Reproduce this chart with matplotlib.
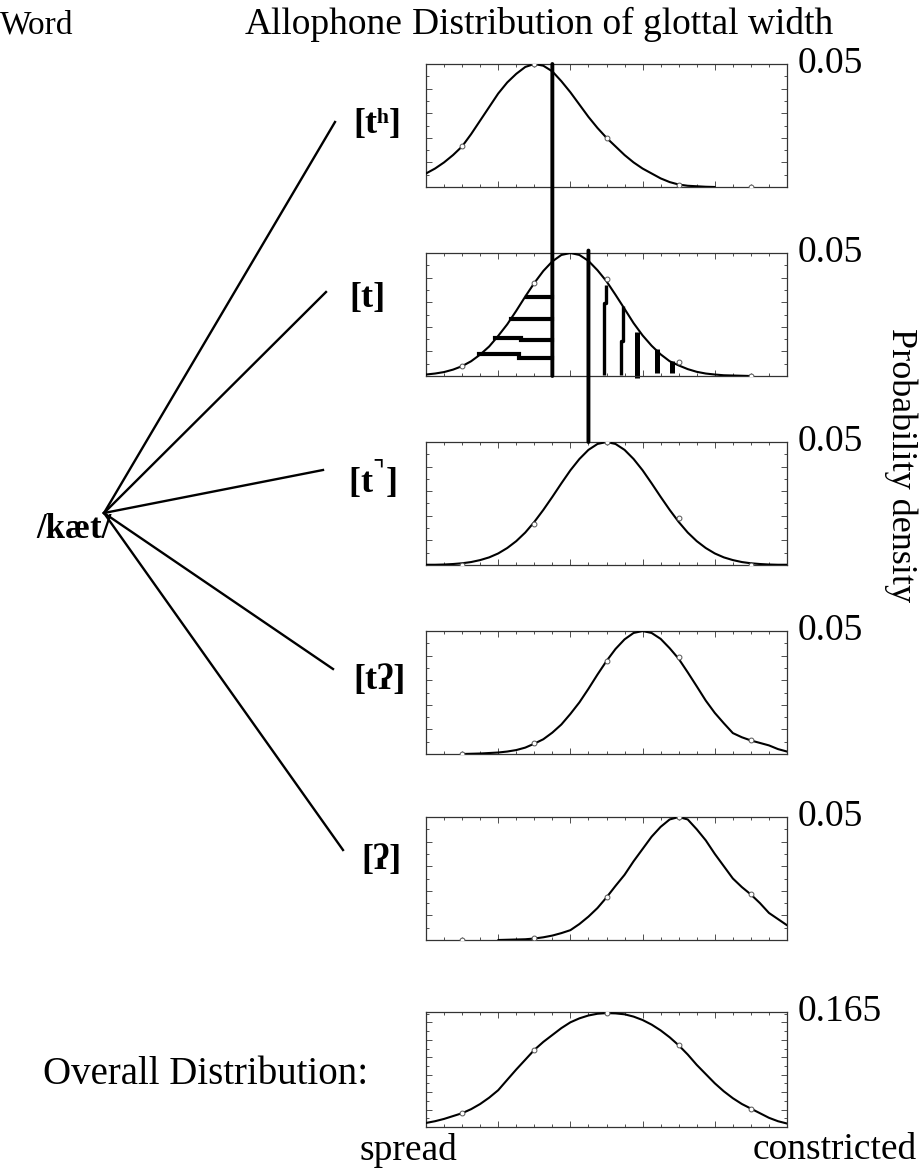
import numpy as np
import matplotlib
matplotlib.use('Agg')
import matplotlib.pyplot as plt
from matplotlib.lines import Line2D
from matplotlib.patches import ConnectionPatch
from matplotlib.ticker import MultipleLocator

plt.rcParams['font.family'] = ['Liberation Serif', 'DejaVu Serif']

# x positions (glottal width, spread -> constricted) where the curves were read
glottal_x = [0.000, 0.025, 0.050, 0.075, 0.100, 0.125, 0.150, 0.175, 0.200, 0.225,
             0.250, 0.275, 0.300, 0.325, 0.350, 0.375, 0.400, 0.425, 0.450, 0.475,
             0.500, 0.525, 0.550, 0.575, 0.600, 0.625, 0.650, 0.675, 0.700, 0.725,
             0.750, 0.775, 0.800, 0.825, 0.850, 0.875, 0.900, 0.925, 0.950, 0.975, 1.000]

# probability density of each allophone
th_y = [0.0055, 0.0075, 0.010, 0.013, 0.0165, 0.0215, 0.027, 0.0325, 0.038, 0.0425,
        0.046, 0.0488, 0.050, 0.0493, 0.047, 0.043, 0.0385, 0.0335, 0.0285, 0.024,
        0.020, 0.0165, 0.013, 0.010, 0.0075, 0.0055, 0.0035, 0.002, 0.001, 0.0005,
        0.0003, 0.0001, 0.0]                                             # x 0 .. 0.8
t_y = [0.0006, 0.001, 0.0016, 0.0026, 0.004, 0.006, 0.0087, 0.012, 0.0163, 0.021,
       0.0265, 0.0323, 0.0378, 0.0427, 0.0466, 0.0492, 0.050, 0.0492, 0.0468, 0.043,
       0.0385, 0.033, 0.0273, 0.0215, 0.0165, 0.0123, 0.0088, 0.006, 0.0043, 0.0028,
       0.0017, 0.001, 0.0006, 0.0003, 0.0002, 0.0001, 0.0]              # x 0 .. 0.9
tc_y = [0.0001, 0.0001, 0.0002, 0.0004, 0.0007, 0.0012, 0.002, 0.0031, 0.0047, 0.0069,
        0.0097, 0.0132, 0.0175, 0.0224, 0.0277, 0.0332, 0.0385, 0.0431, 0.0468, 0.0492,
        0.050, 0.0492, 0.0468, 0.0431, 0.0385, 0.0332, 0.0277, 0.0224, 0.0175, 0.0132,
        0.0097, 0.0069, 0.0047, 0.0031, 0.002, 0.0012, 0.0007, 0.0004, 0.0002, 0.0001,
        0.0001]                                                          # x 0 .. 1
tq_y = [0.0, 0.0001, 0.0002, 0.0004, 0.0006, 0.001, 0.0016, 0.0026, 0.0042, 0.006,
        0.0087, 0.012, 0.0163, 0.021, 0.0265, 0.0323, 0.0378, 0.0427, 0.0466, 0.0492,
        0.050, 0.0492, 0.0468, 0.043, 0.0387, 0.0332, 0.0275, 0.0217, 0.0167, 0.0125,
        0.0085, 0.0068, 0.0055, 0.0045, 0.0035, 0.002, 0.001]            # x 0.1 .. 1
q_y = [0.0, 0.0001, 0.0002, 0.0003, 0.0006, 0.0011, 0.0018, 0.0028, 0.004, 0.0065,
       0.0095, 0.013, 0.0173, 0.022, 0.0265, 0.032, 0.037, 0.042, 0.046, 0.049,
       0.050, 0.049, 0.045, 0.0405, 0.035, 0.030, 0.025, 0.0215, 0.0185, 0.015,
       0.011, 0.0085, 0.006]                                             # x 0.2 .. 1
overall_y = [0.0058, 0.0083, 0.0116, 0.0157, 0.0198, 0.0256, 0.033, 0.0421, 0.0528, 0.0677,
             0.0825, 0.0965, 0.1106, 0.1221, 0.132, 0.1419, 0.1502, 0.1559, 0.160, 0.1625,
             0.1634, 0.163, 0.1617, 0.1584, 0.1535, 0.1469, 0.1386, 0.1287, 0.1172, 0.104,
             0.0891, 0.0759, 0.0627, 0.0512, 0.0413, 0.033, 0.0264, 0.0198, 0.0132, 0.0083,
             0.005]                                                      # x 0 .. 1

# sampled points (open circles)
sample_x = [0.1, 0.3, 0.5, 0.7, 0.9]
th_pts = [0.0165, 0.050, 0.020, 0.001, 0.0]
t_pts = [0.004, 0.0378, 0.0395, 0.0055, 0.0]
tc_pts = [0.0, 0.0165, 0.050, 0.019, 0.0]
tq_pts = [0.0, 0.0045, 0.038, 0.0395, 0.0055]
q_pts = [0.0, 0.001, 0.0173, 0.050, 0.0185]
overall_pts = [0.020, 0.111, 0.163, 0.117, 0.026]

allophones = ['[t\u02b0]', '[t]', '[t$^{\\urcorner}$]', '[t\u0294]', '[\u0294]']
y_tops = [0.05, 0.05, 0.05, 0.05, 0.05, 0.165]

# category boundaries drawn across panels
bound_x = [0.35, 0.45]

# hatching inside the [t] panel
hbar_x0 = [0.281, 0.236, 0.191, 0.148]
hbar_xstep = [0.30, 0.26, 0.262, 0.258]
hbar_yleft = [0.0321, 0.0230, 0.0155, 0.0089]
hbar_yright = [0.0321, 0.0230, 0.0145, 0.0075]
vbar_xlow = [0.493, 0.541, 0.585, 0.641, 0.682]
vbar_xhigh = [0.499, 0.547, 0.585, 0.641, 0.682]
vbar_ystep = [0.0295, 0.0143, 0.010, 0.006, 0.004]
vbar_bottom = [0.0003, 0.0003, -0.0008, 0.0014, 0.0014]
vbar_top = [0.0369, 0.0284, 0.0177, 0.0109, 0.0061]
vbar_lw = [2.4, 2.4, 3.6, 3.6, 3.6]

W, H = 923, 1175
fig = plt.figure(figsize=(W / 100, H / 100), dpi=100)


def fx(px):
    return px / W


def fy(py):
    return 1 - py / H


panel_tops = [64, 253, 442, 631, 817, 1012]
panel_h = [123, 123, 123, 123, 123, 115]
curves = [(glottal_x[:33], th_y, th_pts), (glottal_x[:37], t_y, t_pts),
          (glottal_x, tc_y, tc_pts), (glottal_x[4:], tq_y, tq_pts),
          (glottal_x[8:], q_y, q_pts), (glottal_x, overall_y, overall_pts)]

axes = []
for i in range(6):
    ax = fig.add_axes([fx(426), fy(panel_tops[i] + panel_h[i]), fx(787) - fx(426),
                       panel_h[i] / H])
    cx, cy, pts = curves[i]
    ax.plot(cx, cy, color='black', lw=1.5, solid_capstyle='round', zorder=3)
    ax.plot(sample_x, pts, 'o', ms=3.5, mfc='white', mec='#555555', mew=0.7, zorder=4)
    ax.set_xlim(0, 1)
    ax.set_ylim(0, y_tops[i])
    ax.xaxis.set_major_locator(MultipleLocator(0.2))
    ax.xaxis.set_minor_locator(MultipleLocator(0.05))
    if i < 5:
        ax.yaxis.set_major_locator(MultipleLocator(0.01))
        ax.yaxis.set_minor_locator(MultipleLocator(0.005))
    else:
        ax.yaxis.set_major_locator(MultipleLocator(0.025))
        ax.yaxis.set_minor_locator(MultipleLocator(0.0125))
    ax.tick_params(which='both', direction='in', top=True, right=True,
                   labelbottom=False, labelleft=False, color='#333333', width=0.6)
    ax.tick_params(which='major', length=4)
    ax.tick_params(which='minor', length=2)
    for s in ax.spines.values():
        s.set_color('#333333')
        s.set_linewidth(0.9)
    ax.text(1.03, 1.0, '%g' % y_tops[i], transform=ax.transAxes, fontsize=27,
            ha='left', va='center')
    axes.append(ax)

# hatching in the [t] panel
ax2 = axes[1]
for i in range(len(hbar_x0)):
    ax2.plot([hbar_x0[i], hbar_xstep[i], hbar_xstep[i], bound_x[0]],
             [hbar_yleft[i], hbar_yleft[i], hbar_yright[i], hbar_yright[i]],
             color='black', lw=3.0, solid_joinstyle='miter', zorder=2)
for i in range(len(vbar_xlow)):
    ax2.plot([vbar_xlow[i], vbar_xlow[i], vbar_xhigh[i], vbar_xhigh[i]],
             [vbar_bottom[i], vbar_ystep[i], vbar_ystep[i], vbar_top[i]],
             color='black', lw=vbar_lw[i], solid_capstyle='butt', zorder=2,
             clip_on=False)

# boundary lines crossing panels
con = ConnectionPatch(xyA=(bound_x[0], y_tops[0]), coordsA=axes[0].transData,
                      xyB=(bound_x[0], 0), coordsB=axes[1].transData,
                      color='black', lw=2.8, zorder=5)
fig.add_artist(con)
con = ConnectionPatch(xyA=(bound_x[1], y_tops[1] * 1.02), coordsA=axes[1].transData,
                      xyB=(bound_x[1], y_tops[2]), coordsB=axes[2].transData,
                      color='black', lw=2.8, zorder=5)
fig.add_artist(con)

# word -> allophone tree
origin = (104, 513)
ends = [(335, 122), (326, 292), (323, 470), (333, 669), (343, 850)]
label_pos = [(377, 125), (367, 298), (372, 480), (380, 681), (381, 860)]
for (ex, ey), (lx, ly), lab in zip(ends, label_pos, allophones):
    fig.add_artist(Line2D([fx(origin[0]), fx(ex)], [fy(origin[1]), fy(ey)],
                          transform=fig.transFigure, color='black', lw=1.7))
    fig.text(fx(lx), fy(ly), lab, fontsize=26, fontweight='bold', ha='center', va='center')

fig.text(fx(36), fy(530), '/k\u00e6t/', fontsize=25, fontweight='bold', ha='left', va='center')

# headers
fig.text(fx(0), fy(34), 'Word', fontsize=24, ha='left', va='baseline')
fig.text(fx(245), fy(34), 'Allophone', fontsize=27, ha='left', va='baseline')
fig.text(fx(412), fy(34), 'Distribution of glottal width', fontsize=27, ha='left', va='baseline')

fig.text(fx(901), fy(465), 'Probability density', fontsize=26, rotation=270,
         ha='center', va='center')

fig.text(fx(43), fy(1075), 'Overall Distribution:', fontsize=28, ha='left', va='center')
fig.text(fx(408), fy(1150), 'spread', fontsize=27, ha='center', va='center')
fig.text(fx(835), fy(1150), 'constricted', fontsize=27, ha='center', va='center')

fig.savefig('out.png', dpi=100)
